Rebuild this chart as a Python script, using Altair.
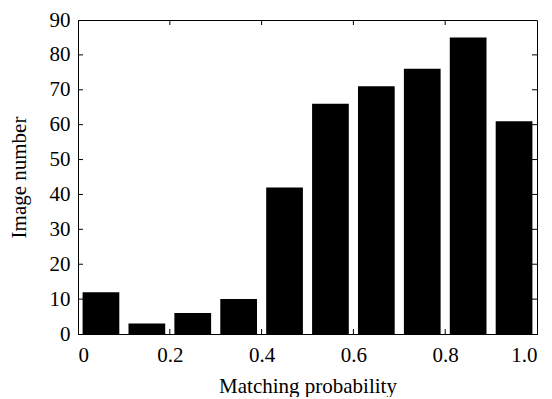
import altair as alt
import pandas as pd

# Histogram bins (centers) and counts
bin_centers = [0.05, 0.15, 0.25, 0.35, 0.45, 0.55, 0.65, 0.75, 0.85, 0.95]
counts = [12, 3, 6, 10, 42, 66, 71, 76, 85, 61]
bar_half_width = 0.04

x_ticks = [0.0, 0.2, 0.4, 0.6, 0.8, 1.0]
y_ticks = [0, 10, 20, 30, 40, 50, 60, 70, 80, 90]
inner_x_ticks = [0.2, 0.4, 0.6, 0.8]
inner_y_ticks = [10, 20, 30, 40, 50, 60, 70, 80]

W, H = 459, 314
FONT = "Liberation Serif"

df = pd.DataFrame({
    "x0": [c - bar_half_width for c in bin_centers],
    "x1": [c + bar_half_width for c in bin_centers],
    "count": counts,
})

xs = alt.Scale(domain=[0, 1], nice=False, zero=False)
ys = alt.Scale(domain=[0, 90], nice=False)
xaxis = alt.Axis(values=x_ticks, title="Matching probability",
                 labelExpr="datum.value == 0 ? '0' : format(datum.value, '.1f')",
                 tickSize=0, labelPadding=10, titlePadding=10, grid=False)
yaxis = alt.Axis(values=y_ticks, title="Image number", tickSize=0,
                 labelPadding=8, titlePadding=20, grid=False)

bars = alt.Chart(df).mark_rect(color="black").encode(
    x=alt.X("x0:Q", scale=xs, axis=xaxis),
    x2="x1:Q",
    y=alt.Y("count:Q", scale=ys, axis=yaxis),
)

xt = pd.DataFrame({"t": inner_x_ticks})
yt = pd.DataFrame({"t": inner_y_ticks})
TL = 5

xb = alt.Chart(xt).mark_rule(color="black").encode(
    x=alt.X("t:Q", scale=xs, axis=xaxis), y=alt.value(H), y2=alt.value(H - TL))
xtop = alt.Chart(xt).mark_rule(color="black").encode(
    x=alt.X("t:Q", scale=xs, axis=xaxis), y=alt.value(0), y2=alt.value(TL))
yl = alt.Chart(yt).mark_rule(color="black").encode(
    y=alt.Y("t:Q", scale=ys, axis=yaxis), x=alt.value(0), x2=alt.value(TL))
yr = alt.Chart(yt).mark_rule(color="black").encode(
    y=alt.Y("t:Q", scale=ys, axis=yaxis), x=alt.value(W), x2=alt.value(W - TL))

chart = alt.layer(bars, xb, xtop, yl, yr).properties(
    width=W, height=H,
    background="white",
    autosize=alt.AutoSizeParams(type="none"),
    padding={"left": 70, "top": 12, "right": 7, "bottom": 63},
).configure_view(
    stroke="black", strokeWidth=1
).configure_axis(
    domainColor="black", labelColor="black", titleColor="black",
    labelFont=FONT, titleFont=FONT, labelFontSize=21, titleFontSize=21,
    titleFontWeight="normal",
)

chart.save("out.html", embed_options={"renderer": "svg", "actions": False})
